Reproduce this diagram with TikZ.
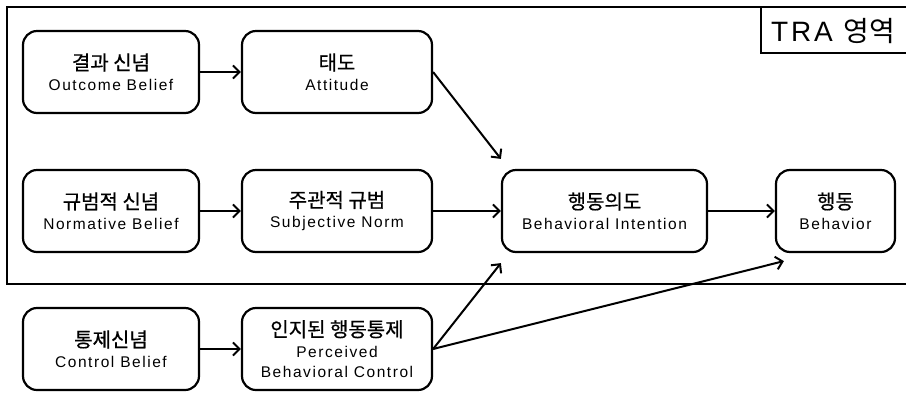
\documentclass[tikz,border=0pt]{standalone}
\usepackage{fontspec}
\setmainfont[LetterSpace=10]{Liberation Sans}
\newfontfamily\kr[FakeBold=0.6]{Noto Sans CJK KR}
\newfontfamily\krlabel{Noto Sans CJK KR}
\usetikzlibrary{arrows.meta,calc}
\newcommand{\tw}[2]{{\kr\fontsize{20}{20}\selectfont #1}\\{#2}}
\begin{document}
\begin{tikzpicture}[x=1pt,y=-1pt,
  box/.style={draw,line width=2.2pt,rounded corners=14pt,minimum height=82pt,
    align=center,inner sep=0pt,font=\fontsize{15.5}{20.5}\selectfont},
  conn/.style={line width=2pt,-{Straight Barb[length=6.5pt,width=13pt,line width=2pt]}}
]
\clip (0,0) rectangle (906,392);
\fill[white] (0,0) rectangle (906,392);

% TRA frame and its label
\draw[line width=2.6pt] (920,7) -- (7,7) -- (7,284) -- (920,284);
\draw[line width=2.4pt] (920,53) -- (761,53) -- (761,7);
\node[anchor=west,inner sep=0pt,font=\fontsize{28}{30}\selectfont] (tra) at (771,31) {TRA {\krlabel 영역}};

% nodes
\node[box,minimum width=176pt] (ob) at (111,72) {\tw{결과 신념}{Outcome Belief}};
\node[box,minimum width=190pt] (at) at (337,72) {\tw{태도}{Attitude}};
\node[box,minimum width=176pt] (nb) at (111,211) {\tw{규범적 신념}{Normative Belief}};
\node[box,minimum width=190pt] (sn) at (337,211) {\tw{주관적 규범}{Subjective Norm}};
\node[box,minimum width=205pt] (bi) at (604.5,211) {\tw{행동의도}{Behavioral Intention}};
\node[box,minimum width=119pt] (bh) at (835.5,211) {\tw{행동}{Behavior}};
\node[box,minimum width=176pt] (cb) at (111,349) {\tw{통제신념}{Control Belief}};
\node[box,minimum width=190pt] (pc) at (337,349) {\tw{인지된 행동통제}{Perceived}\\Behavioral Control};

% arrow targets near the corners
\coordinate (biTL) at ($(bi.north west)+(0,-10)$);
\coordinate (biBL) at ($(bi.south west)+(0,10)$);
\coordinate (bhBL) at ($(bh.south west)+(9,8)$);

% connectors
\draw[conn] (ob) -- (at);
\draw[conn] (nb) -- (sn);
\draw[conn] (sn) -- (bi);
\draw[conn] (bi) -- (bh);
\draw[conn] (cb) -- (pc);
\draw[conn] (at.east) -- (biTL);
\draw[conn] (pc.east) -- (biBL);
\draw[conn] (pc.east) -- (bhBL);
\end{tikzpicture}
\end{document}
